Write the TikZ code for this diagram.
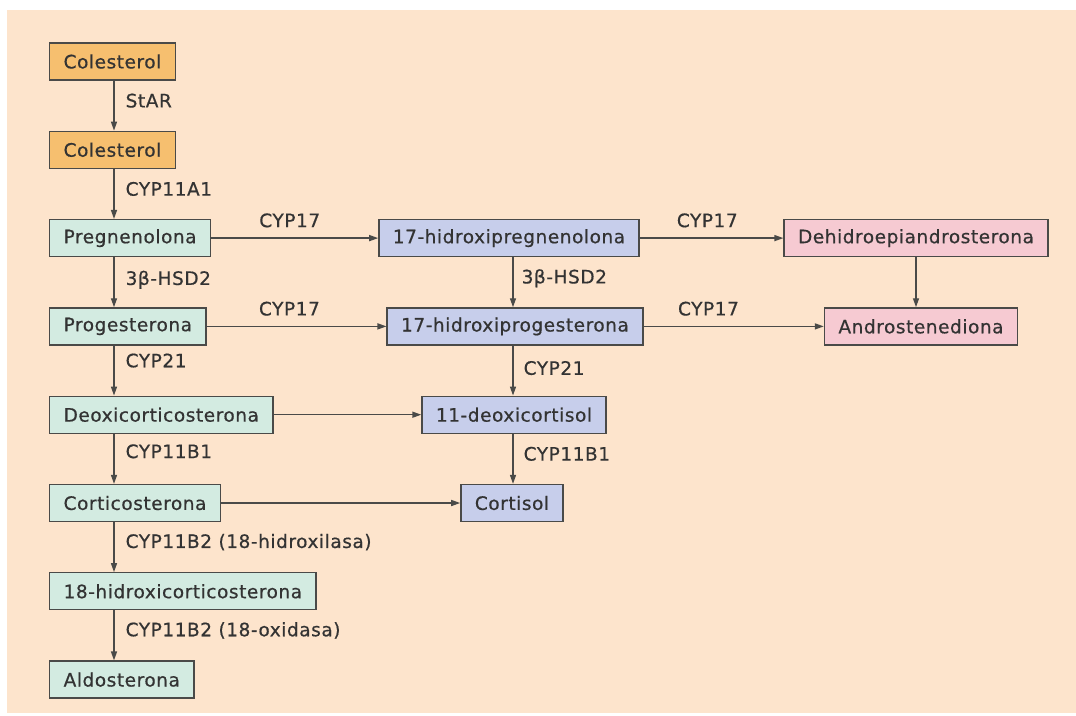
\documentclass[tikz,border=0pt]{standalone}
\usepackage{fontspec}
\setmainfont{DejaVu Sans}[LetterSpace=3, FakeBold=0.6]
\usepackage{tikz}
\usetikzlibrary{positioning, arrows.meta, calc}

\definecolor{bgbeige}{HTML}{FDE4CC}
\definecolor{cholorange}{HTML}{F6BF6F}
\definecolor{mintgreen}{HTML}{D3EBE1}
\definecolor{paleblue}{HTML}{C7CEEB}
\definecolor{palepink}{HTML}{F6CAD2}
\definecolor{edgegray}{HTML}{4A4A48}
\definecolor{inkgray}{HTML}{333333}

\begin{document}
\begin{tikzpicture}[x=1pt, y=-1pt, >={Triangle[length=9pt,width=6pt]},
      node distance=50pt,
      mol/.style={draw=edgegray, line width=1.3pt, minimum height=37pt, inner xsep=14pt,
        text=inkgray, font=\fontsize{18.5}{22}\selectfont},
      enz/.style={text=inkgray, inner sep=2pt, font=\fontsize{18.5}{22}\selectfont},
      link/.style={->, draw=edgegray, line width=1.4pt}]
    \useasboundingbox (0,0) rectangle (1076,715);
    \fill[bgbeige] (7,10) rectangle (1076,713);

    % left column
    \node[mol, fill=cholorange, anchor=west] (col1) at (49,61.5) {Colesterol};
    \node[mol, fill=cholorange, below=of col1.south west, anchor=north west] (col2) {Colesterol};
    \node[mol, fill=mintgreen, below=of col2.south west, anchor=north west] (preg) {Pregnenolona};
    \node[mol, fill=mintgreen, below=of preg.south west, anchor=north west] (prog) {Progesterona};
    \node[mol, fill=mintgreen, below=of prog.south west, anchor=north west] (doc) {Deoxicorticosterona};
    \node[mol, fill=mintgreen, below=of doc.south west, anchor=north west] (cort) {Corticosterona};
    \node[mol, fill=mintgreen, below=of cort.south west, anchor=north west] (ohcort) {18-hidroxicorticosterona};
    \node[mol, fill=mintgreen, below=of ohcort.south west, anchor=north west] (aldo) {Aldosterona};
    \coordinate (lx) at (114,0);

    % middle column
    \coordinate (mx) at (513,0);
    \node[mol, fill=paleblue] (ohpreg) at (preg.center -| 509,0) {17-hidroxipregnenolona};
    \node[mol, fill=paleblue, below=of ohpreg, xshift=6pt] (ohprog) {17-hidroxiprogesterona};
    \node[mol, fill=paleblue, below=of ohprog, xshift=-1pt] (deoxf) {11-deoxicortisol};
    \node[mol, fill=paleblue, below=of deoxf, xshift=-2pt] (cortf) {Cortisol};

    % right column
    \node[mol, fill=palepink] (dhea) at (preg.center -| 916,0) {Dehidroepiandrosterona};
    \node[mol, fill=palepink, below=of dhea, xshift=5pt] (andro) {Androstenediona};

    % vertical steps
    \draw[link] (col1.south -| lx) -- node[enz, right=9pt, pos=0.4] {StAR} (col2.north -| lx);
    \draw[link] (col2.south -| lx) -- node[enz, right=9pt, pos=0.4] {CYP11A1} (preg.north -| lx);
    \draw[link] (preg.south -| lx) -- node[enz, right=9pt, pos=0.45] {3β-HSD2} (prog.north -| lx);
    \draw[link] (prog.south -| lx) -- node[enz, right=9pt, pos=0.3] {CYP21} (doc.north -| lx);
    \draw[link] (doc.south -| lx) -- node[enz, right=9pt, pos=0.35] {CYP11B1} (cort.north -| lx);
    \draw[link] (cort.south -| lx) -- node[enz, right=9pt, pos=0.4] {CYP11B2 (18-hidroxilasa)} (ohcort.north -| lx);
    \draw[link] (ohcort.south -| lx) -- node[enz, right=9pt, pos=0.4] {CYP11B2 (18-oxidasa)} (aldo.north -| lx);
    \draw[link] (ohpreg.south -| mx) -- node[enz, right=6pt, pos=0.42] {3β-HSD2} (ohprog.north -| mx);
    \draw[link] (ohprog.south -| mx) -- node[enz, right=8pt, pos=0.45] {CYP21} (deoxf.north -| mx);
    \draw[link] (deoxf.south -| mx) -- node[enz, right=8pt, pos=0.4] {CYP11B1} (cortf.north -| mx);
    \draw[link] (dhea) -- (dhea |- andro.north);

    % horizontal steps
    \draw[link] (preg) -- node[enz, above=8pt, pos=0.47] {CYP17} (ohpreg);
    \draw[link] (ohpreg) -- node[enz, above=8pt, pos=0.47] {CYP17} (dhea);
    \draw[link] (prog) -- node[enz, above=8pt, pos=0.46] {CYP17} (ohprog);
    \draw[link] (ohprog) -- node[enz, above=8pt, pos=0.36] {CYP17} (andro);
    \draw[link] (doc) -- (deoxf);
    \draw[link] (cort) -- (cortf);
  \end{tikzpicture}
\end{document}
